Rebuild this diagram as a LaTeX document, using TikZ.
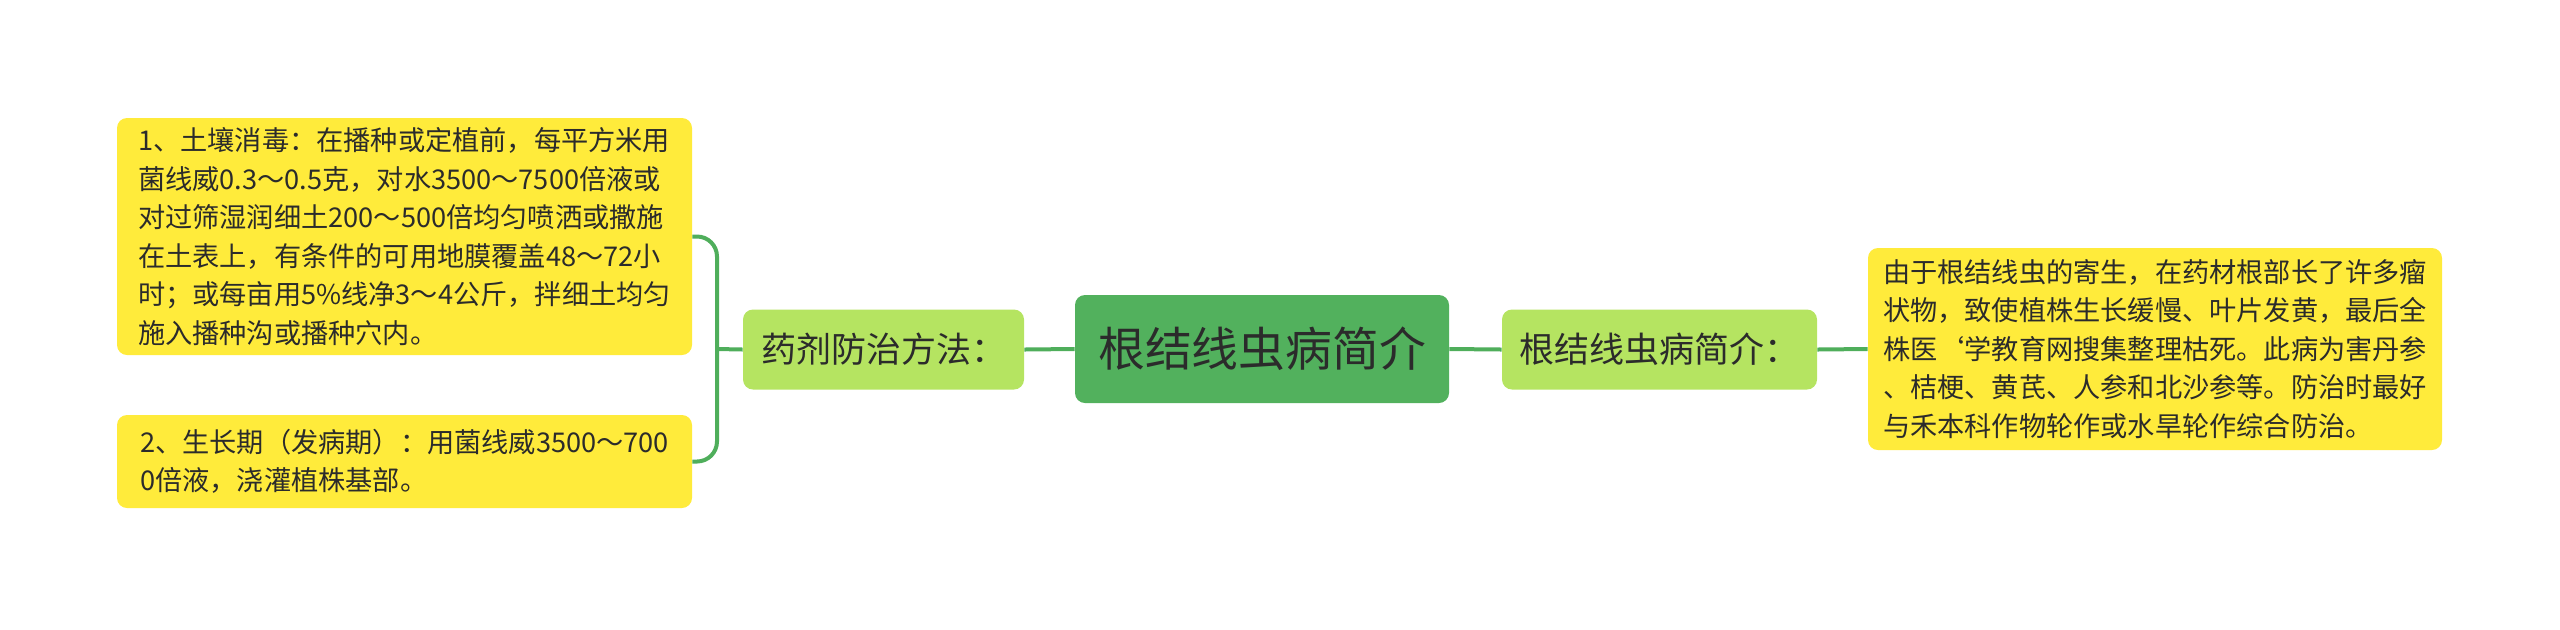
\documentclass[tikz,border=0pt]{standalone}
\usepackage{fontspec}
\setmainfont{Noto Sans CJK SC}
\usepackage{tikz}
\usetikzlibrary{arrows.meta}

\definecolor{topicgreen}{HTML}{52B15D}
\definecolor{subgreen}{HTML}{B5E461}
\definecolor{noteyellow}{HTML}{FFEB3B}
\definecolor{linkgreen}{HTML}{4FAE5B}
\definecolor{inkgray}{HTML}{2B2B2B}

\begin{document}
\begin{tikzpicture}[x=0.5pt, y=-0.5pt,
  every node/.style={text=inkgray, inner sep=0pt, rounded corners=5pt},
  topic/.style={fill=topicgreen, minimum width=187pt, minimum height=54pt, font=\fontsize{23.4}{28}\selectfont},
  sub/.style={fill=subgreen, minimum height=40pt, font=\fontsize{17.5}{21}\selectfont},
  note/.style={fill=noteyellow, align=left, minimum width=287.5pt, font=\fontsize{13.6}{19.25}\selectfont},
  link/.style={draw=linkgreen, line width=2pt}]
\useasboundingbox (0,0) rectangle (2560,629);
\node[topic] (c) at (1262,349) {根结线虫病简介};
\node[sub, minimum width=140.5pt] (yf) at (883.5,349.5) {药剂防治方法：};
\node[sub, minimum width=157.5pt] (jj) at (1659.5,349.5) {根结线虫病简介：};
\node[note, minimum height=118.5pt] (b1) at (404.5,236.5) {1、土壤消毒：在播种或定植前，每平方米用\\菌线威0.3～0.5克，对水3500～7500倍液或\\对过筛湿润细土200～500倍均匀喷洒或撒施\\在土表上，有条件的可用地膜覆盖48～72小\\时；或每亩用5\%线净3～4公斤，拌细土均匀\\施入播种沟或播种穴内。};
\node[note, minimum height=46.5pt] (b2) at (404.5,461.5) {2、生长期（发病期）：用菌线威3500～700\\0倍液，浇灌植株基部。};
\node[note, minimum width=287pt, minimum height=101pt] (rb) at (2155,349) {由于根结线虫的寄生，在药材根部长了许多瘤\\状物，致使植株生长缓慢、叶片发黄，最后全\\株医\symbol{96}学教育网搜集整理枯死。此病为害丹参\\、桔梗、黄芪、人参和北沙参等。防治时最好\\与禾本科作物轮作或水旱轮作综合防治。};
\coordinate (brk) at (717,349);
% links
\draw[link] (yf.east) -- (c.west);
\draw[link] (c.east) -- (jj.west);
\draw[link] (jj.east) -- (rb.west);
\draw[link] (yf.west) -- (brk);
\draw[link, rounded corners=10pt] (b1.east) -| (brk) |- (b2.east);
\end{tikzpicture}
\end{document}
